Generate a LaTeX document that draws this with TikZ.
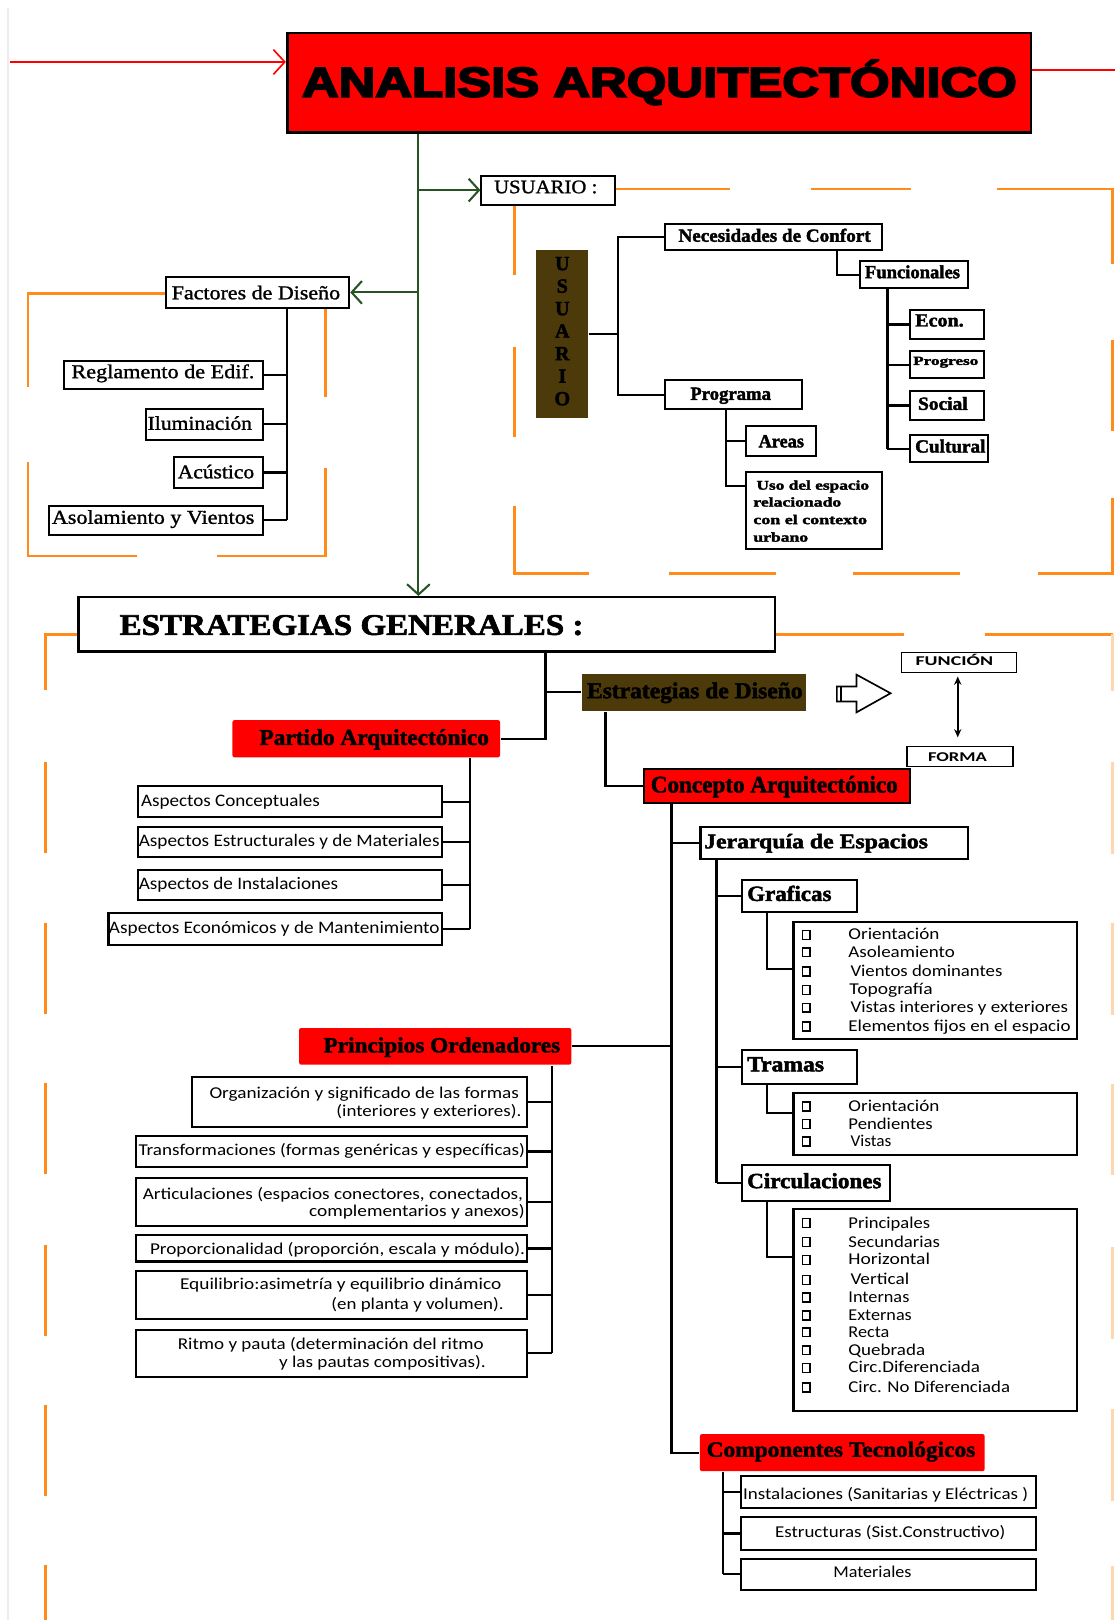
\documentclass[tikz,border=0pt]{standalone}
\usepackage{fontspec}
\setmainfont{Liberation Serif}
\newfontfamily\arialf{Liberation Sans}
\newfontfamily\arialh[FakeBold=4]{Liberation Sans Bold}
\newfontfamily\serh[FakeBold=2]{Liberation Serif Bold}
\newfontfamily\serm[FakeBold=1.2]{Liberation Serif}
\newfontfamily\carl{Carlito}
\usepackage{graphicx}
\usetikzlibrary{arrows.meta,calc}
\definecolor{org}{RGB}{255,140,26}
\definecolor{grn}{RGB}{40,84,36}
\definecolor{brn}{RGB}{76,58,10}
\definecolor{rd}{RGB}{255,0,0}
\newcommand\fsz[1]{\fontsize{#1}{#1}\selectfont}
\newcommand\fw[2]{\resizebox{#1pt}{\height}{#2}}
\newcommand\bxn[6][]{\node[bx,#1,minimum width={(#5-#3)*1pt},minimum height={(#6-#4)*1pt}] (#2) at ({(#3+#5)/2},{(#4+#6)/2}) {};}
\newcommand\tx[6]{\node[txt,font={#2}] (#1) at (#3,#4) {\fw{#5}{#6}};}
\newcommand\txR[6]{\node[txr,font={#2}] (#1) at (#3,#4) {\fw{#5}{#6}};}
\newcommand\itm[5]{\draw[blt] (776.5,#2-9) rectangle (784,#2-0.5); \node[txt,font={\carl\fsz{16}}] (#1) at (#4,#2) {\fw{#3}{#5}};}
\begin{document}
\begin{tikzpicture}[x=1pt,y=-1pt,
 bx/.style={draw=black,line width=2pt,inner sep=0pt,fill=white},
 redb/.style={fill=rd,draw=none,rounded corners=2pt},
 ln/.style={draw=black,line width=2.1pt},
 gr/.style={draw=grn,line width=2pt},
 og/.style={draw=org,line width=2.4pt},
 ogl/.style={draw=org!35,line width=2.4pt},
 txt/.style={inner sep=0pt,anchor=base west},
 txr/.style={inner sep=0pt,anchor=base east},
 blt/.style={draw=black,line width=1.3pt},
 barb/.style={-{Straight Barb[length=10pt,width=22pt,line width=2pt]}},
]
\useasboundingbox (0,0) rectangle (1079,1568);
\draw[gray!15,line width=1.5pt] (8,8) -- (8,1568);

% ---------- orange dashed frames ----------
% usuario frame
\draw[og] (594,183) -- (707,183);
\draw[og] (785,183) -- (882,183);
\draw[og] (965,183) -- (1077,183) -- (1077,256);
\draw[og] (1077,329) -- (1077,417);
\draw[og] (1077,482) -- (1077,555) -- (1005,555);
\draw[og] (929,555) -- (826,555);
\draw[og] (751,555) -- (648,555);
\draw[og] (570,555) -- (498,555) -- (498,490);
\draw[og] (498,423) -- (498,336);
\draw[og] (498,266) -- (498,198);
% factores frame
\draw[og] (161,284) -- (27,284) -- (27,375);
\draw[og] (27,447) -- (27,538) -- (133,538);
\draw[og] (210,538) -- (315,538) -- (315,453);
\draw[og] (315,384) -- (315,298);
% lower frame
\draw[og] (76,614) -- (44,614) -- (44,668);
\foreach \a/\b in {738/826,893/981,1048/1136,1205/1293,1360/1448,1515/1568}
  \draw[og] (44,\a) -- (44,\b);
\draw[og] (750,614) -- (875,614);
\draw[og] (953,614) -- (1077,614);
\foreach \a/\b in {614/669,738/827,893/982,1049/1137,1207/1296,1364/1453,1516/1568}
  \draw[ogl] (1077,\a) -- (1077,\b);

% ---------- title ----------
\bxn[fill=rd,line width=2.6pt]{title}{278}{32}{998}{128}
\tx{titlet}{\arialh\fsz{40.5}}{292}{93.6}{692}{ANALISIS ARQUITECTÓNICO}

% ---------- usuario ----------
\bxn{usu}{466}{170}{595}{198}
\tx{usut}{\serm\fsz{18.5}}{478}{187}{100}{USUARIO :}
\node[fill=brn,inner sep=0pt,minimum width=50.5pt,minimum height=163pt] (ublk) at (544.25,323.3) {};
\node[inner sep=0pt,anchor=north,align=center,font={\serh\fontsize{19.5}{21.8}\selectfont}] (ublkt) at (544.25,248.5) {U\\S\\U\\A\\R\\I\\O};
\bxn{nec}{644}{217}{854}{242}
\tx{nect}{\serh\fsz{18}}{656.5}{234}{186}{Necesidades de Confort}
\bxn{func}{832}{253}{937}{279}
\tx{funct}{\serh\fsz{18}}{837}{269.3}{92}{Funcionales}
\bxn{econ}{880.6}{300}{952}{328}
\tx{econt}{\serh\fsz{18}}{885.6}{316}{47}{Econ.}
\bxn{progr}{880.6}{340}{952}{366}
\tx{progrt}{\serh\fsz{12}}{883.7}{353.2}{63}{Progreso}
\bxn{soc}{880.6}{378.5}{952}{406.5}
\tx{soct}{\serh\fsz{18}}{888.4}{396.7}{48}{Social}
\bxn{cult}{880.6}{421}{956}{447.5}
\tx{cultt}{\serh\fsz{18}}{885.6}{438}{68}{Cultural}
\bxn{prog}{644}{368}{776}{396}
\tx{progt}{\serh\fsz{18}}{668}{387}{78}{Programa}
\bxn{areas}{722}{412}{790}{441}
\tx{areast}{\serh\fsz{18}}{734}{433}{44}{Areas}
\bxn{uso}{722}{457}{854}{531.5}
\tx{uso1}{\serh\fsz{13}}{732}{474}{109}{Uso del espacio}
\tx{uso2}{\serh\fsz{13}}{729}{490.3}{85}{relacionado}
\tx{uso3}{\serh\fsz{13}}{729}{507.3}{110}{con el contexto}
\tx{uso4}{\serh\fsz{13}}{729}{524.3}{53}{urbano}

% ---------- factores ----------
\bxn{fact}{161}{268}{338}{298}
\tx{factt}{\serm\fsz{19}}{166}{289.7}{163}{Factores de Diseño}
\bxn{regl}{61.5}{349}{254.5}{376.5}
\tx{reglt}{\serm\fsz{19}}{69}{366}{177}{Reglamento de Edif.}
\bxn{ilum}{141.5}{396}{254.5}{425.5}
\tx{ilumt}{\serm\fsz{19}}{142.7}{416}{101}{Iluminación}
\bxn{acus}{168.5}{442.5}{254.5}{472}
\tx{acust}{\serm\fsz{19}}{171.8}{463}{74}{Acústico}
\bxn{asol}{47}{489.5}{254.5}{517.5}
\tx{asolt}{\serm\fsz{19}}{50}{507}{196}{Asolamiento y Vientos}

% ---------- estrategias ----------
\bxn[line width=2.4pt]{estr}{76}{578}{750}{630.5}
\tx{estrt}{\serh\fsz{29}}{115.6}{614.5}{449}{ESTRATEGIAS GENERALES :}
\bxn[fill=brn,draw=none]{edis}{563}{652}{780}{688}
\tx{edist}{\serh\fsz{22}}{568}{675.8}{208.6}{Estrategias de Diseño}
\draw[line width=1.6pt,fill=white,line join=miter] (810,664.5) -- (829,664.5) -- (829,653) -- (862,671) -- (829,689.5) -- (829,679) -- (810,679) -- cycle;
\draw[line width=1.2pt] (814,664.5) -- (814,679);
\bxn[line width=1.6pt]{fun}{872.7}{631.5}{984}{651}
\tx{funt}{\carl\bfseries\fsz{13}}{886}{644}{75}{FUNCIÓN}
\bxn[line width=1.6pt]{forma}{877.7}{722.5}{980.5}{742}
\tx{format}{\carl\bfseries\fsz{13}}{898}{737}{57}{FORMA}

\bxn[redb]{part}{225}{697}{484}{733}
\tx{partt}{\serh\fsz{22}}{251}{721}{222}{Partido Arquitectónico}
\bxn[fill=rd]{conc}{623}{744}{881}{777}
\tx{conct}{\serh\fsz{23}}{629.7}{767}{239}{Concepto Arquitectónico}

\bxn{aconc}{134}{761}{428}{791}
\tx{aconct}{\carl\fsz{17}}{136.3}{780.6}{173}{Aspectos Conceptuales}
\bxn{aestr}{134}{800}{428}{829.5}
\tx{aestrt}{\carl\fsz{17}}{134.2}{819.3}{291}{Aspectos Estructurales y de Materiales}
\bxn{ainst}{134}{842}{428}{871.5}
\tx{ainstt}{\carl\fsz{17}}{134.2}{861.2}{193}{Aspectos de Instalaciones}
\bxn{aecon}{105}{884}{428}{914.5}
\tx{aecont}{\carl\fsz{17}}{105.3}{903.2}{320}{Aspectos Económicos y de Mantenimiento}

% ---------- concepto branch ----------
\bxn{jer}{678}{800}{937}{831.5}
\tx{jert}{\serh\fsz{20}}{681.4}{821}{216.6}{Jerarquía de Espacios}
\bxn{graf}{718}{851.5}{829.5}{883}
\tx{graft}{\serh\fsz{21}}{723}{872}{81.6}{Graficas}
\bxn{tram}{718}{1016.5}{829.5}{1049}
\tx{tramt}{\serh\fsz{21}}{723}{1037}{74.4}{Tramas}
\bxn{circ}{718}{1127.5}{861}{1162}
\tx{circt}{\serh\fsz{21}}{723}{1150}{130}{Circulaciones}
\bxn{glist}{768}{892}{1042}{1006}
\bxn{tlist}{768}{1057.5}{1042}{1117.5}
\bxn{clist}{768}{1170}{1042}{1366}
\itm{g1}{909.6}{88}{821}{Orientación}
\itm{g2}{926.4}{103}{821}{Asoleamiento}
\itm{g3}{945.1}{147}{823}{Vientos dominantes}
\itm{g4}{962.8}{80.5}{822}{Topografía}
\itm{g5}{980}{210.6}{823}{Vistas interiores y exteriores}
\itm{g6}{998.3}{215}{821}{Elementos fijos en el espacio}
\itm{t1}{1075.7}{88}{821}{Orientación}
\itm{t2}{1092.8}{81.6}{821}{Pendientes}
\itm{t3}{1109.6}{39.7}{823}{Vistas}
\itm{c1}{1188.6}{79}{821}{Principales}
\itm{c2}{1207}{88.7}{821}{Secundarias}
\itm{c3}{1224.1}{79}{821}{Horizontal}
\itm{c4}{1243.5}{56.8}{823}{Vertical}
\itm{c5}{1260.6}{59}{821}{Internas}
\itm{c6}{1278}{61.3}{821}{Externas}
\itm{c7}{1294.4}{39.7}{821}{Recta}
\itm{c8}{1311.8}{74.2}{821}{Quebrada}
\itm{c9}{1328.9}{127.4}{821}{Circ.Diferenciada}
\itm{c10}{1347.7}{156.5}{821}{Circ. No Diferenciada}

% ---------- principios ----------
\bxn[redb]{prin}{289.5}{995}{553}{1030.5}
\tx{print}{\serh\fsz{21}}{313}{1018.6}{229}{Principios Ordenadores}
\bxn{org}{185.5}{1042.5}{510}{1091}
\txR{org1}{\carl\fsz{16}}{502.5}{1062.8}{299.5}{Organización y significado de las formas}
\txR{org2}{\carl\fsz{16}}{504.8}{1080.6}{179}{(interiores y exteriores).}
\bxn{trf}{131.6}{1099.3}{510}{1129.6}
\tx{trft}{\carl\fsz{16}}{133.9}{1118.6}{374}{Transformaciones (formas genéricas y específicas)}
\bxn{art}{131.6}{1140.3}{510}{1187}
\txR{art1}{\carl\fsz{16}}{506.4}{1161.2}{368}{Articulaciones (espacios conectores, conectados,}
\txR{art2}{\carl\fsz{16}}{508}{1177.4}{208.7}{complementarios y anexos)}
\bxn{prp}{131.6}{1195.7}{510}{1221}
\tx{prpt}{\carl\fsz{16}}{145}{1214.4}{363}{Proporcionalidad (proporción, escala y módulo).}
\bxn{eq}{131.6}{1230}{510}{1276.7}
\txR{eq1}{\carl\fsz{16}}{485.5}{1248.3}{311}{Equilibrio:asimetría y equilibrio dinámico}
\txR{eq2}{\carl\fsz{16}}{487.7}{1267.7}{166.7}{(en planta y volumen).}
\bxn{rit}{131.6}{1287}{510}{1332.8}
\txR{rit1}{\carl\fsz{16}}{468.4}{1305.7}{296}{Ritmo y pauta (determinación del ritmo}
\txR{rit2}{\carl\fsz{16}}{470.3}{1324}{200}{y las pautas compositivas).}

% ---------- componentes ----------
\bxn[redb]{comp}{677.5}{1388}{953}{1424}
\tx{compt}{\serh\fsz{21}}{683.8}{1410}{260}{Componentes Tecnológicos}
\bxn{inst}{717.5}{1429}{1003}{1459.5}
\tx{instt}{\carl\fsz{16}}{719}{1451.5}{276}{Instalaciones (Sanitarias y Eléctricas )}
\bxn{estru}{717.5}{1468.5}{1003}{1500}
\tx{estrut}{\carl\fsz{16}}{750}{1488.6}{223}{Estructuras (Sist.Constructivo)}
\bxn{mat}{717.5}{1508.5}{1003}{1538.5}
\tx{matt}{\carl\fsz{16}}{806.4}{1526.4}{75.6}{Materiales}

% ---------- connectors ----------
\coordinate (rl) at (10,60);
\coordinate (rr) at (1079,68);
\draw[draw=rd,line width=1.6pt,-{Straight Barb[length=11pt,width=24pt,line width=1.6pt]}] (rl) -- (rl -| title.west);
\draw[draw=rd,line width=1.6pt] (title.east |- rr) -- (rr);

\coordinate (tk) at (405,0);
\draw[gr,barb] (title.south -| tk) -- (estr.north -| tk);
\draw[gr,barb] (usu.west -| tk) -- (usu.west);
\draw[gr,barb] (fact.east -| tk) -- (fact.east);

\coordinate (fb) at (278,0);
\draw[ln] (fact.south -| fb) -- (asol.east -| fb);
\foreach \n in {regl,ilum,acus,asol} \draw[ln] (\n.east) -- (\n.east -| fb);

\coordinate (ub) at (598,0);
\draw[ln] (ublk.east) -- (ublk.east -| ub);
\draw[ln] (nec.west) -- (nec.west -| ub) -- (prog.west -| ub) -- (prog.west);
\coordinate (nf) at (810,0);
\draw[ln] (nec.south -| nf) |- (func.west);
\coordinate (fcb) at (859,0);
\draw[ln] (func.south -| fcb) -- (cult.west -| fcb);
\foreach \n in {econ,progr,soc,cult} \draw[ln] (\n.west) -- (\n.west -| fcb);
\coordinate (pgb) at (702.5,0);
\coordinate (usot) at (722,470);
\draw[ln] (prog.south -| pgb) -- (usot -| pgb) -- (usot);
\draw[ln] (areas.west) -- (areas.west -| pgb);

\coordinate (eb) at (528,0);
\draw[ln] (estr.south -| eb) -- (part.east -| eb) -- (part.east);
\draw[ln] (edis.west -| eb) -- (edis.west);
\coordinate (ec) at (586,0);
\draw[ln] (edis.south -| ec) |- (conc.west);
\coordinate (fa) at (927,0);
\draw[line width=1.5pt,{Stealth[length=8pt,width=7pt]}-{Stealth[length=8pt,width=7pt]},shorten <=3pt,shorten >=8pt] (fun.south -| fa) -- (forma.north -| fa);

\coordinate (pab) at (455,0);
\draw[ln] (part.south -| pab) -- (aecon.east -| pab);
\foreach \n in {aconc,aestr,ainst,aecon} \draw[ln] (\n.east) -- (\n.east -| pab);

\coordinate (ct) at (650,0);
\draw[ln] (conc.south -| ct) -- (comp.west -| ct) -- (comp.west);
\draw[ln] (jer.west -| ct) -- (jer.west);
\draw[ln] (prin.east) -- (prin.east -| ct);

\coordinate (jb) at (693.5,0);
\draw[ln] (jer.south -| jb) -- (circ.west -| jb);
\foreach \n in {graf,tram,circ} \draw[ln] (\n.west -| jb) -- (\n.west);
\coordinate (lx) at (742,0);
\coordinate (gt) at (768,938);
\coordinate (tt) at (768,1077);
\coordinate (ctk) at (768,1217);
\draw[ln] (graf.south -| lx) |- (gt);
\draw[ln] (tram.south -| lx) |- (tt);
\draw[ln] (circ.south -| lx) |- (ctk);

\coordinate (prb) at (534.5,0);
\draw[ln] (prin.south -| prb) -- (rit.east -| prb);
\foreach \n in {org,trf,art,prp,eq,rit} \draw[ln] (\n.east) -- (\n.east -| prb);

\coordinate (cb) at (700,0);
\draw[ln] (comp.south -| cb) -- (mat.west -| cb);
\foreach \n in {inst,estru,mat} \draw[ln] (\n.west -| cb) -- (\n.west);
\end{tikzpicture}
\end{document}
